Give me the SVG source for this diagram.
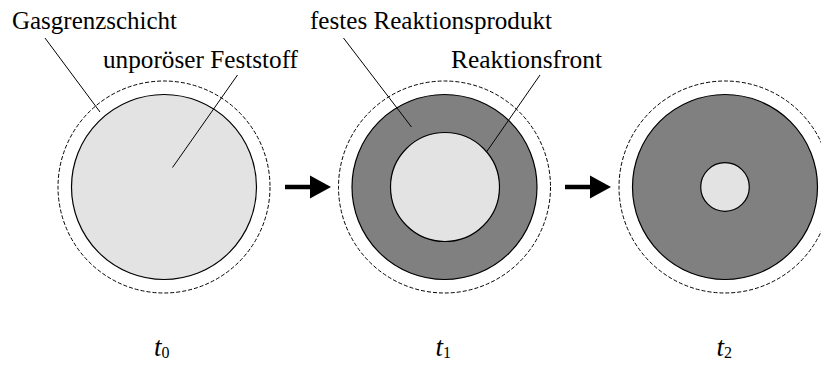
<svg xmlns="http://www.w3.org/2000/svg" width="821" height="367" viewBox="0 0 821 367">
  <defs>
    <style>
      text { font-family: 'Liberation Serif', 'Times New Roman', serif; fill: #000; }
      .label { font-size: 25px; }
      .time { font-size: 27px; font-style: italic; }
      .sub { font-size: 16px; font-style: normal; }
      .boundary { fill: none; stroke: #000; stroke-width: 1; stroke-dasharray: 4 2; }
      .solid { fill: #e3e3e3; stroke: #000; stroke-width: 1.2; }
      .product { fill: #808080; stroke: #000; stroke-width: 1.2; }
      .leader { stroke: #000; stroke-width: 1; fill: none; }
      .step { stroke: #000; stroke-width: 4.5; fill: none; }
    </style>
    <polygon id="head" points="0,-11.5 21,0 0,11.5" fill="#000"/>
  </defs>
  <rect width="821" height="367" fill="#fff"/>

  <!-- state t0: unreacted particle -->
  <g id="particle-t0">
    <circle class="boundary" cx="164" cy="187" r="106"/>
    <circle class="solid" cx="164" cy="187" r="92.5"/>
  </g>

  <!-- state t1: product shell around shrinking core -->
  <g id="particle-t1">
    <circle class="boundary" cx="444.5" cy="187" r="106"/>
    <circle class="product" cx="444.5" cy="187" r="92.5"/>
    <circle class="solid" cx="445" cy="187" r="54.5"/>
  </g>

  <!-- state t2: nearly converted particle -->
  <g id="particle-t2">
    <circle class="boundary" cx="725" cy="187" r="106"/>
    <circle class="product" cx="725" cy="187" r="92.5"/>
    <circle class="solid" cx="725" cy="187" r="24.3"/>
  </g>

  <!-- progression arrows and label leaders -->
  <g id="connectors">
    <line class="step" x1="285" y1="187" x2="312" y2="187"/>
    <use href="#head" x="310" y="187"/>
    <line class="step" x1="565" y1="187" x2="592" y2="187"/>
    <use href="#head" x="590" y="187"/>

    <line class="leader" x1="45" y1="38" x2="100" y2="112"/>
    <line class="leader" x1="237.5" y1="75" x2="172.5" y2="167.5"/>
    <line class="leader" x1="343.5" y1="38" x2="411.5" y2="127"/>
    <line class="leader" x1="540" y1="75" x2="486.7" y2="151.7"/>
  </g>

  <g id="labels">
    <text class="label" x="12" y="29" textLength="165" lengthAdjust="spacingAndGlyphs">Gasgrenzschicht</text>
    <text class="label" x="103" y="68" textLength="195" lengthAdjust="spacingAndGlyphs">unporöser Feststoff</text>
    <text class="label" x="310" y="29" textLength="242" lengthAdjust="spacingAndGlyphs">festes Reaktionsprodukt</text>
    <text class="label" x="451" y="68" textLength="151" lengthAdjust="spacingAndGlyphs">Reaktionsfront</text>
  </g>

  <g id="time-labels">
    <text class="time" x="154" y="356">t<tspan class="sub" dy="2">0</tspan></text>
    <text class="time" x="435.5" y="356">t<tspan class="sub" dy="2">1</tspan></text>
    <text class="time" x="716.5" y="356">t<tspan class="sub" dy="2">2</tspan></text>
  </g>
</svg>
